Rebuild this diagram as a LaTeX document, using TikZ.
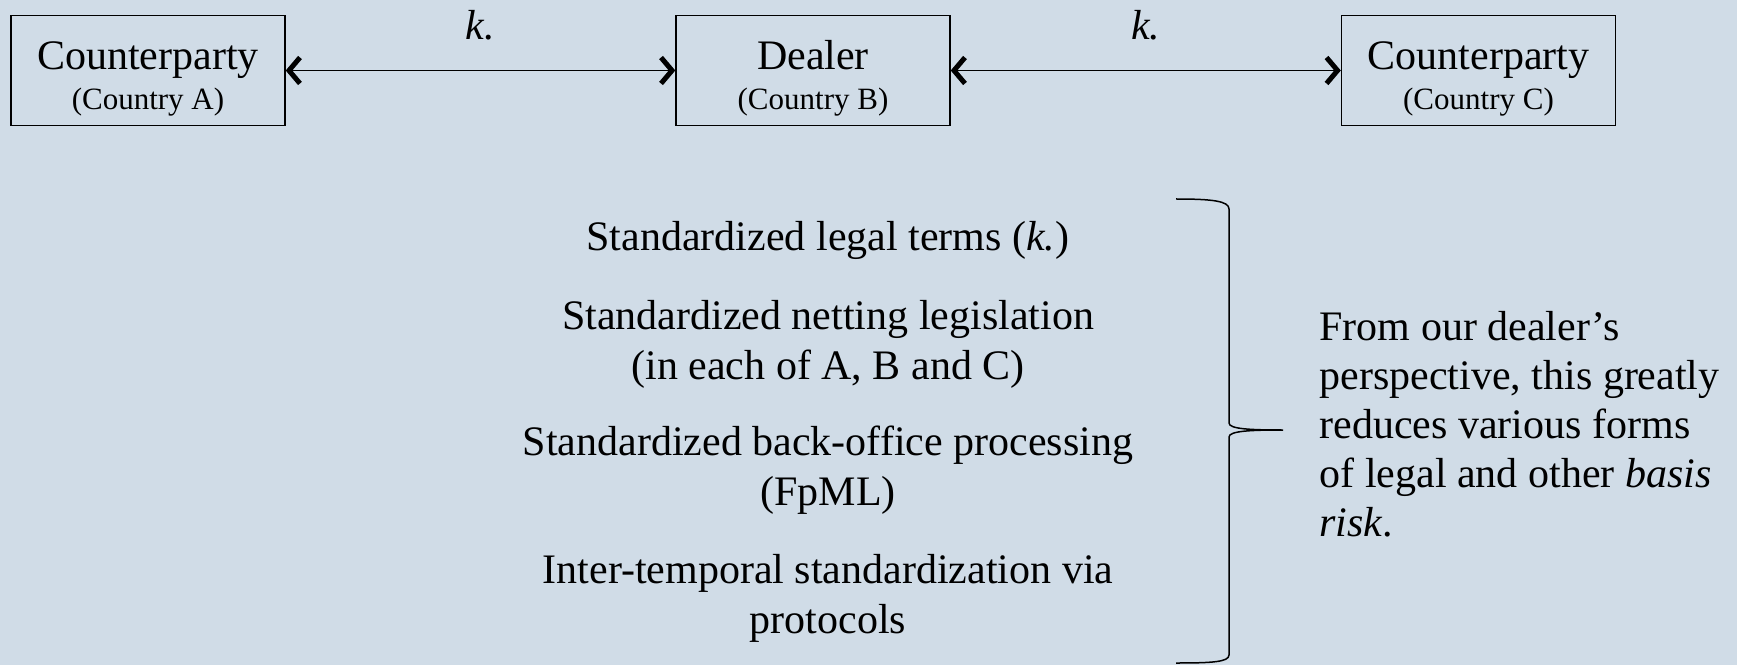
\documentclass[tikz,border=0pt]{standalone}
\usepackage{fontspec}
\setmainfont{Liberation Serif}
\usepackage{xcolor}
\definecolor{slate}{HTML}{D0DCE7}
\usetikzlibrary{arrows.meta,positioning}

\begin{document}
\begin{tikzpicture}[
  x=1pt,y=1pt,
  party/.style={draw,line width=1.4pt,minimum width=274pt,minimum height=110pt,inner sep=0pt,align=center,font=\fontsize{42}{40}\selectfont},
  link/.style={{Straight Barb[length=11pt,width=26pt,line width=5pt]}-{Straight Barb[length=11pt,width=26pt,line width=5pt]},line width=1.8pt},
  klabel/.style={font=\fontsize{42}{42}\selectfont\itshape},
  std/.style={align=center,font=\fontsize{42}{50}\selectfont},
]
  \fill[slate] (0,0) rectangle (1737,665);
  \useasboundingbox (0,0) rectangle (1737,665);

  % Parties
  \node[party] (ctpa) at (148,594.5) {\rule{0pt}{45pt}Counterparty\\{\fontsize{31}{37}\selectfont (Country A)}};
  \node[party] (dealer) at (813,594.5) {\rule{0pt}{45pt}Dealer\\{\fontsize{31}{37}\selectfont (Country B)}};
  \node[party] (ctpc) at (1478.5,594.5) {\rule{0pt}{45pt}Counterparty\\{\fontsize{31}{37}\selectfont (Country C)}};

  \draw[link] (ctpa) -- node[klabel,above=26pt] (ka) {k.} (dealer);
  \draw[link] (dealer) -- node[klabel,above=26pt] (kc) {k.} (ctpc);

  % Standardization layers
  \node[std] (terms) at (828,425) {Standardized legal terms (\textit{k.})};
  \node[std] (netting) at (828,321) {Standardized netting legislation\\(in each of A, B and C)};
  \node[std] (office) at (828,194.5) {Standardized back-office processing\\(FpML)};
  \node[std] (protocols) at (828,67) {Inter-temporal standardization via\\protocols};

  % Brace
  \coordinate (btop) at (1176,466);
  \coordinate (btip) at (1283,235);
  \coordinate (bbot) at (1176,2);
  \draw[line width=1.5pt] (btop) .. controls (1212,466) and (1229,464) .. (1229,456)
    -- (1229,242) .. controls (1229,236) and (1250,235) .. (btip)
    .. controls (1250,235) and (1229,234) .. (1229,228)
    -- (1229,10) .. controls (1229,3) and (1212,2) .. (bbot);

  \node[align=left,anchor=west,font=\fontsize{42}{49}\selectfont] (view) at (1316,241) {From our dealer’s\\perspective, this greatly\\reduces various forms\\of legal and other \textit{basis}\\\textit{risk}.};
\end{tikzpicture}
\end{document}
